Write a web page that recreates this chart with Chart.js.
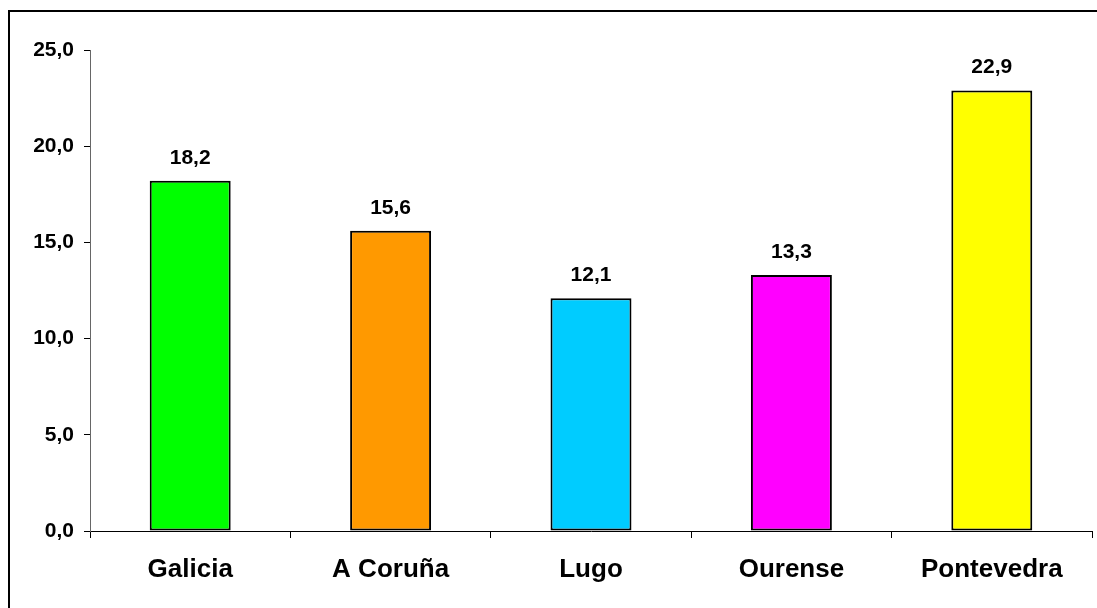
<!DOCTYPE html>
<html>
<head>
<meta charset="utf-8">
<script src="https://cdn.jsdelivr.net/npm/chart.js@4"></script>
<style>
  html, body { margin: 0; padding: 0; background: #fff; overflow: hidden; width: 1097px; height: 608px; }
  #frame { position: absolute; left: 8px; top: 10px; width: 2000px; height: 2000px; border-top: 2px solid #000; border-left: 2px solid #000; box-sizing: border-box; }
  #c { position: absolute; left: 0; top: 0; }
</style>
</head>
<body>
<div id="frame"></div>
<canvas id="c" width="1097" height="608"></canvas>
<script>
const categories = ["Galicia", "A Coruña", "Lugo", "Ourense", "Pontevedra"];
const values = [18.2, 15.6, 12.1, 13.3, 22.9];
const barColors = ["#00FF00", "#FF9900", "#00CCFF", "#FF00FF", "#FFFF00"];
const yTicks = [0, 5, 10, 15, 20, 25];

const fmt = v => Number(v).toFixed(1).replace('.', ',');
const FONT = "'Liberation Sans', Arial, sans-serif";

const valueLabels = {
  id: 'valueLabels',
  afterDatasetsDraw(chart) {
    const ctx = chart.ctx;
    const meta = chart.getDatasetMeta(0);
    ctx.save();
    ctx.font = "bold 21px " + FONT;
    ctx.fillStyle = "#000";
    ctx.textAlign = "center";
    ctx.textBaseline = "alphabetic";
    meta.data.forEach((bar, i) => {
      ctx.fillText(fmt(values[i]), bar.x, bar.y - 17);
    });
    ctx.restore();
  }
};

new Chart(document.getElementById('c'), {
  type: 'bar',
  data: {
    labels: categories,
    datasets: [{
      data: values,
      backgroundColor: barColors,
      borderColor: "#000",
      borderWidth: 2,
      borderSkipped: false,
      categoryPercentage: 1.0,
      barPercentage: 0.404
    }]
  },
  options: {
    responsive: false,
    animation: false,
    devicePixelRatio: 1,
    layout: { padding: { left: 0, right: 5, top: 50, bottom: 0 } },
    plugins: { legend: { display: false }, tooltip: { enabled: false } },
    scales: {
      x: {
        grid: { drawOnChartArea: false, drawTicks: true, tickLength: 7, color: "#000", offset: true },
        border: { display: true, color: "#000", width: 1 },
        ticks: { color: "#000", font: { family: FONT, size: 26, weight: 'bold' }, padding: 16, maxRotation: 0, autoSkip: false },
        afterFit(scale) { scale.height = 77; }
      },
      y: {
        min: 0, max: 25,
        afterBuildTicks(scale) { scale.ticks = yTicks.map(v => ({ value: v })); },
        grid: { drawOnChartArea: false, drawTicks: true, tickLength: 6, color: "#000" },
        border: { display: true, color: "#666", width: 1 },
        ticks: { color: "#000", font: { family: FONT, size: 21, weight: 'bold' }, padding: 10, callback: v => fmt(v) },
        afterFit(scale) { scale.width = 90; }
      }
    }
  },
  plugins: [valueLabels]
});
</script>
</body>
</html>
